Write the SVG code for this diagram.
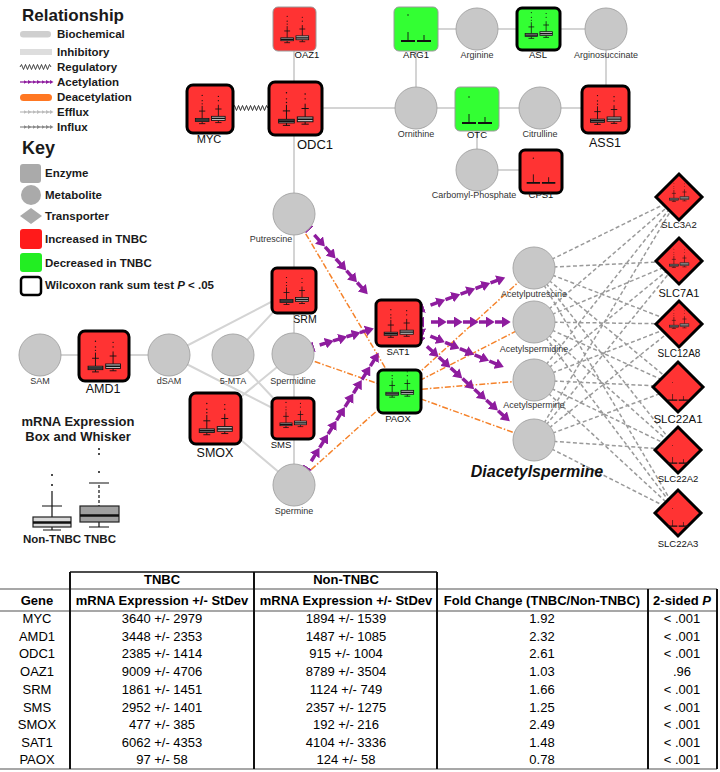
<svg xmlns="http://www.w3.org/2000/svg" xmlns:xlink="http://www.w3.org/1999/xlink" width="720" height="772" viewBox="0 0 720 772">
<style>
text{font-family:"Liberation Sans",Arial,sans-serif}
.up{fill:#FF3333}
.dn{fill:#33FF33}
.sig{stroke:#000;stroke-width:3}
.ns{stroke:#9a9a9a;stroke-width:1}
.met{fill:#C8C8C8;stroke:#A8A8A8;stroke-width:1}
.ml{font-size:9px;fill:#333;text-anchor:middle}
.gl{fill:#111;text-anchor:middle}
.bio{stroke:#D4D4D4;stroke-width:2;fill:none}
.dea{stroke:#F5822A;stroke-width:1.5;stroke-dasharray:6 2 1.5 2;fill:none}
.tr{stroke:#9A9A9A;stroke-width:1.5;stroke-dasharray:4 2.5;fill:none}
.ac{stroke:#8E1C9E;stroke-width:3.5;fill:none;marker-start:url(#ahr);marker-mid:url(#ah);marker-end:url(#ah)}
.lg{font-size:11.5px;font-weight:bold;fill:#1a1a1a}
.th{font-size:13px;font-weight:bold;fill:#000;text-anchor:middle}
.td{font-size:13px;fill:#000;text-anchor:middle}
.vl{stroke:#111;stroke-width:2}
.hl{stroke:#8a8a8a;stroke-width:1.5}
</style>
<defs>
<marker id="ah" markerUnits="userSpaceOnUse" markerWidth="11" markerHeight="11" refX="1" refY="5" orient="auto" viewBox="0 0 10 10"><path d="M0,0 L8,5 L0,10 z" fill="#8E1C9E"/></marker>
<marker id="ahr" markerUnits="userSpaceOnUse" markerWidth="11" markerHeight="11" refX="1" refY="5" orient="auto-start-reverse" viewBox="0 0 10 10"><path d="M0,0 L8,5 L0,10 z" fill="#8E1C9E"/></marker>
<marker id="sp" markerUnits="userSpaceOnUse" markerWidth="5" markerHeight="5" refX="1" refY="2" orient="auto" viewBox="0 0 5 4"><path d="M0,0 L3.5,2 L0,4 z" fill="#8E1C9E"/></marker>
<marker id="sg1" markerUnits="userSpaceOnUse" markerWidth="5" markerHeight="5" refX="1" refY="2" orient="auto" viewBox="0 0 5 4"><path d="M0,0 L3.5,2 L0,4 z" fill="#BBBBBB"/></marker>
<marker id="sg2" markerUnits="userSpaceOnUse" markerWidth="5" markerHeight="5" refX="1" refY="2" orient="auto" viewBox="0 0 5 4"><path d="M0,0 L3.5,2 L0,4 z" fill="#888888"/></marker>
<symbol id="bp" viewBox="0 0 44 44">
<g stroke="#111" stroke-width="0.8" fill="none">
<path d="M14.5 19V31 M11.5 24h6 M11.5 36h6 M14.5 34v2 M30 18V29 M27 22h6 M27 35h6 M30 33v2"/>
</g>
<g fill="#111"><circle cx="14.5" cy="9" r="0.6"/><circle cx="14.5" cy="14" r="0.6"/><circle cx="14.5" cy="17" r="0.6"/><circle cx="30" cy="10" r="0.6"/><circle cx="30" cy="14" r="0.6"/></g>
<rect x="8" y="31" width="13" height="3" fill="#aaa" stroke="#111" stroke-width="0.8"/>
<rect x="23.5" y="29" width="13" height="4" fill="#bbb" stroke="#111" stroke-width="0.8"/>
<path d="M8 32.5h13 M23.5 31h13" stroke="#111" stroke-width="1.3"/>
</symbol>
<symbol id="bf" viewBox="0 0 44 44">
<circle cx="14" cy="8" r="0.7" fill="#111"/>
<path d="M14 25V34 M30 28V34" stroke="#111" stroke-width="0.9"/>
<path d="M7 34h14 M23 34h14" stroke="#111" stroke-width="1.8"/>
</symbol>
</defs>
<rect width="720" height="772" fill="#fff"/>

<!-- Legend -->
<g id="legend">
<text x="22" y="21" font-size="17" font-weight="bold" fill="#1a1a1a">Relationship</text>
<rect x="20" y="31" width="31" height="6.5" rx="3.2" fill="#CFCFCF"/>
<text class="lg" x="57" y="38">Biochemical</text>
<rect x="20" y="49" width="32" height="6" fill="#DDDDDD"/>
<text class="lg" x="57" y="56">Inhibitory</text>
<path d="M20 67 l1.5 -2.5 l2 5 l2 -5 l2 5 l2 -5 l2 5 l2 -5 l2 5 l2 -5 l2 5 l2 -5 l2 5 l2 -5 l2 5 l2 -5 l1.5 2.5" stroke="#333" stroke-width="0.9" fill="none"/>
<text class="lg" x="57" y="71">Regulatory</text>
<path d="M20 82 h4.5 h4.5 h4.5 h4.5 h4.5 h4.5 h4" stroke="#8E1C9E" stroke-width="1.3" fill="none" marker-mid="url(#sp)" marker-end="url(#sp)"/>
<text class="lg" x="57" y="86">Acetylation</text>
<rect x="20" y="94" width="32" height="7" rx="3.5" fill="#FF7722"/>
<text class="lg" x="57" y="101">Deacetylation</text>
<path d="M20 112 h4.5 h4.5 h4.5 h4.5 h4.5 h4.5 h4" stroke="#BBBBBB" stroke-width="1.2" fill="none" marker-mid="url(#sg1)" marker-end="url(#sg1)"/>
<text class="lg" x="57" y="116">Efflux</text>
<path d="M20 127 h4.5 h4.5 h4.5 h4.5 h4.5 h4.5 h4" stroke="#888888" stroke-width="1.2" fill="none" marker-mid="url(#sg2)" marker-end="url(#sg2)"/>
<text class="lg" x="57" y="131">Influx</text>
<text x="22" y="154" font-size="18" font-weight="bold" fill="#1a1a1a">Key</text>
<rect x="20" y="164" width="21" height="19" rx="3" fill="#AAAAAA"/>
<text class="lg" x="45" y="177">Enzyme</text>
<circle cx="31" cy="195" r="10" fill="#AAAAAA"/>
<text class="lg" x="45" y="199">Metabolite</text>
<polygon points="20,216 31,208 42,216 31,224" fill="#AAAAAA"/>
<text class="lg" x="45" y="220">Transporter</text>
<rect x="20" y="229" width="22" height="20" rx="3" fill="#FF1A1A"/>
<text class="lg" x="45" y="243">Increased in TNBC</text>
<rect x="20" y="253" width="22" height="19" rx="3" fill="#22EE22"/>
<text class="lg" x="45" y="267">Decreased in TNBC</text>
<rect x="21" y="277" width="20" height="18" rx="3" fill="#fff" stroke="#000" stroke-width="2.5"/>
<text class="lg" x="45" y="289">Wilcoxon rank sum test <tspan font-style="italic">P</tspan> &lt; .05</text>
</g>

<!-- Box and whisker legend -->
<g id="bw-legend">
<text x="78" y="426" font-size="13" font-weight="bold" fill="#1a1a1a" text-anchor="middle">mRNA Expression</text>
<text x="78" y="441" font-size="13" font-weight="bold" fill="#1a1a1a" text-anchor="middle">Box and Whisker</text>
<g fill="#111"><circle cx="99" cy="449" r="1"/><circle cx="99" cy="454" r="1"/><circle cx="99" cy="472" r="1"/><circle cx="52" cy="475" r="1"/><circle cx="52" cy="485" r="1"/></g>
<path d="M52 491V517 M42 506h20 M52 527v3 M43 530h18" stroke="#111" stroke-width="1.2" fill="none"/>
<rect x="33" y="517" width="38" height="10" fill="#D8D8D8" stroke="#222" stroke-width="1.2"/>
<path d="M33 522.5h38" stroke="#111" stroke-width="2.5"/>
<path d="M99 485V506" stroke="#111" stroke-width="1.2" stroke-dasharray="3 2"/>
<path d="M89 483h20 M99 522v5 M89 527h20" stroke="#111" stroke-width="1.2" fill="none"/>
<rect x="80" y="506" width="39" height="16" fill="#A0A0A0" stroke="#222" stroke-width="1.2"/>
<path d="M80 515.5h39" stroke="#111" stroke-width="2.5"/>
<text x="52" y="543" font-size="11.5" font-weight="bold" fill="#1a1a1a" text-anchor="middle">Non-TNBC</text>
<text x="100" y="543" font-size="11.5" font-weight="bold" fill="#1a1a1a" text-anchor="middle">TNBC</text>
</g>

<!-- Connectors -->
<g id="edges">
<path class="bio" d="M294 51V464 M322 108H581 M416 29V108 M438 29H585 M606 29V108 M477 108V170 M477 170H540 M40 355H169 M169 355L294 290 M169 355L292 418 M233 355L294 290 M233 355L292 418 M215 418L293 354 M215 418L294 485"/>
<path d="M233 108 l1.5 -2.5 l2 5 l2 -5 l2 5 l2 -5 l2 5 l2 -5 l2 5 l2 -5 l2 5 l2 -5 l2 5 l2 -5 l2 5 l2 -5 l2 5 l2 -5 l1.5 2.5" stroke="#333" stroke-width="1" fill="none"/>
<path class="tr" d="M534 268L679 197 M534 268L679 261 M534 268L679 324 M534 268L678 387 M534 268L678 450 M534 268L678 513 M534 322L679 197 M534 322L679 261 M534 322L679 324 M534 322L678 387 M534 322L678 450 M534 322L678 513 M534 380L679 197 M534 380L679 261 M534 380L679 324 M534 380L678 387 M534 380L678 450 M534 380L678 513 M534 440L679 197 M534 440L679 261 M534 440L679 324 M534 440L678 387 M534 440L678 450 M534 440L678 513"/>
<path class="dea" d="M294 214L399 391 M293 354L399 391 M294 485L399 391 M399 391L534 268 M399 391L534 322 M399 391L534 380 M399 391L534 440"/>
<path class="ac" stroke-dasharray="8 8" stroke-dashoffset="8" d="M309 229 l10.71 11.89 l10.71 11.89 l10.71 11.89 l10.71 11.89 l10.71 11.89"/>
<path class="ac" stroke-dasharray="7 7" stroke-dashoffset="7" d="M313 347 l13.38 -4.09 l13.38 -4.09 l13.38 -4.09 l13.38 -4.09"/>
<path class="ac" stroke-dasharray="8 8" stroke-dashoffset="8" d="M307 468 l8.45 -13.59 l8.45 -13.59 l8.45 -13.59 l8.45 -13.59 l8.45 -13.59 l8.45 -13.59 l8.45 -13.59 l8.45 -13.59"/>
<path class="ac" stroke-dasharray="8 8" stroke-dashoffset="8" d="M423 308 l15 -5.57 l15 -5.57 l15 -5.57 l15 -5.57 l15 -5.57"/>
<path class="ac" stroke-dasharray="8 8" stroke-dashoffset="8" d="M423 322 l16 0 l16 0 l16 0 l16 0 l16 0"/>
<path class="ac" stroke-dasharray="8 8" stroke-dashoffset="8" d="M423 333 l14.74 6.22 l14.74 6.22 l14.74 6.22 l14.74 6.22 l14.74 6.22"/>
<path class="ac" stroke-dasharray="8 8" stroke-dashoffset="8" d="M421 341 l11.87 10.74 l11.87 10.74 l11.87 10.74 l11.87 10.74 l11.87 10.74 l11.87 10.74 l11.87 10.74"/>
</g>

<!-- Enzymes -->
<g id="OAZ1"><rect class="up ns" x="273" y="7" width="43" height="44" rx="5"/><use href="#bp" x="273" y="7" width="43" height="44"/><text class="gl" x="307" y="58" font-size="9.5">OAZ1</text></g>
<g id="ARG1"><rect class="dn ns" x="394" y="7" width="44" height="44" rx="5"/><use href="#bf" x="394" y="7" width="44" height="44"/><text class="gl" x="416" y="58" font-size="9.5">ARG1</text></g>
<g id="ASL"><rect class="dn sig" x="517" y="8" width="43" height="42" rx="5"/><use href="#bp" x="517" y="4" width="43" height="42"/><text class="gl" x="538" y="58" font-size="9.5">ASL</text></g>
<g id="MYC"><rect class="up sig" x="187" y="85" width="46" height="48" rx="6"/><use href="#bp" x="187" y="85" width="46" height="48"/><text class="gl" x="209" y="143" font-size="11">MYC</text></g>
<g id="ODC1"><rect class="up sig" x="269" y="82" width="53" height="53" rx="6"/><use href="#bp" x="269" y="82" width="53" height="53"/><text class="gl" x="315" y="149" font-size="13">ODC1</text></g>
<g id="OTC"><rect class="dn ns" x="455" y="87" width="44" height="44" rx="5"/><use href="#bf" x="455" y="89" width="44" height="44"/><text class="gl" x="477" y="138" font-size="9.5">OTC</text></g>
<g id="ASS1"><rect class="up sig" x="582" y="86" width="47" height="47" rx="6"/><use href="#bp" x="582" y="86" width="47" height="47"/><text class="gl" x="605" y="147" font-size="12.5">ASS1</text></g>
<g id="CPS1"><rect class="up sig" x="520" y="150" width="42" height="43" rx="5"/><use href="#bf" x="520" y="150" width="42" height="43"/><text class="gl" x="541" y="198" font-size="9.5">CPS1</text></g>
<g id="SRM"><rect class="up sig" x="272" y="268" width="44" height="45" rx="5"/><use href="#bp" x="272" y="268" width="44" height="45"/><text class="gl" x="305" y="323" font-size="10.5">SRM</text></g>
<g id="AMD1"><rect class="up sig" x="79" y="331" width="50" height="50" rx="6"/><use href="#bp" x="79" y="331" width="50" height="50"/><text class="gl" x="103" y="393" font-size="12.5">AMD1</text></g>
<g id="SAT1"><rect class="up sig" x="376" y="300" width="45" height="46" rx="5"/><use href="#bp" x="376" y="300" width="45" height="46"/><text class="gl" x="398" y="355" font-size="9.5">SAT1</text></g>
<g id="PAOX"><rect class="dn sig" x="378" y="370" width="43" height="43" rx="5"/><use href="#bp" x="378" y="362" width="43" height="43"/><text class="gl" x="398" y="422" font-size="9.5">PAOX</text></g>
<g id="SMS"><rect class="up sig" x="272" y="398" width="42" height="41" rx="5"/><use href="#bp" x="272" y="394" width="42" height="41"/><text class="gl" x="281" y="448" font-size="9.5">SMS</text></g>
<g id="SMOX"><rect class="up sig" x="190" y="393" width="51" height="51" rx="6"/><use href="#bp" x="190" y="393" width="51" height="51"/><text class="gl" x="215" y="457" font-size="12.5">SMOX</text></g>

<!-- Metabolites -->
<g id="Arginine"><circle class="met" cx="477" cy="29" r="21"/><text class="ml" x="477" y="58">Arginine</text></g>
<g id="Arginosuccinate"><circle class="met" cx="606" cy="29" r="21"/><text class="ml" x="606" y="58">Arginosuccinate</text></g>
<g id="Ornithine"><circle class="met" cx="416" cy="108" r="21"/><text class="ml" x="416" y="137">Ornithine</text></g>
<g id="Citrulline"><circle class="met" cx="540" cy="108" r="21"/><text class="ml" x="540" y="137">Citrulline</text></g>
<g id="Carbomyl-Phosphate"><circle class="met" cx="477" cy="170" r="21"/><text class="ml" x="474" y="198" font-size="8.8">Carbomyl-Phosphate</text></g>
<g id="Putrescine"><circle class="met" cx="294" cy="214" r="21"/><text class="ml" x="271" y="242">Putrescine</text></g>
<g id="SAM"><circle class="met" cx="40" cy="355" r="21"/><text class="ml" x="40" y="384">SAM</text></g>
<g id="dSAM"><circle class="met" cx="169" cy="355" r="21"/><text class="ml" x="169" y="384">dSAM</text></g>
<g id="MTA"><circle class="met" cx="233" cy="355" r="21"/><text class="ml" x="233" y="384">5-MTA</text></g>
<g id="Spermidine"><circle class="met" cx="293" cy="354" r="21"/><text class="ml" x="293" y="384">Spermidine</text></g>
<g id="Spermine"><circle class="met" cx="294" cy="485" r="21"/><text class="ml" x="294" y="514">Spermine</text></g>
<g id="Acetylputrescine"><circle class="met" cx="534" cy="268" r="21"/><text class="ml" x="534" y="297">Acetylputrescine</text></g>
<g id="Acetylspermidine"><circle class="met" cx="534" cy="322" r="21"/><text class="ml" x="534" y="352">Acetylspermidine</text></g>
<g id="Acetylspermine"><circle class="met" cx="534" cy="380" r="21"/><text class="ml" x="534" y="408">Acetylspermine</text></g>
<g id="Diacetylspermine"><circle class="met" cx="534" cy="440" r="21"/><text x="537" y="477" font-size="16" font-weight="bold" font-style="italic" fill="#111" text-anchor="middle">Diacetylspermine</text></g>

<!-- Transporters -->
<g id="SLC3A2"><polygon class="up sig" points="656,197 679,174 702,197 679,220"/><use href="#bp" x="664" y="177" width="30" height="30"/><text class="gl" x="679" y="228" font-size="9.5">SLC3A2</text></g>
<g id="SLC7A1"><polygon class="up sig" points="656,261 679,238 702,261 679,284"/><use href="#bp" x="664" y="243" width="30" height="30"/><text class="gl" x="679" y="297" font-size="11">SLC7A1</text></g>
<g id="SLC12A8"><polygon class="up sig" points="656,324 679,301 702,324 679,347"/><use href="#bp" x="664" y="304" width="30" height="30"/><text class="gl" x="679" y="357" font-size="10">SLC12A8</text></g>
<g id="SLC22A1"><polygon class="up sig" points="653,387 678,362 703,387 678,412"/><use href="#bf" x="663" y="377" width="30" height="30"/><text class="gl" x="678" y="423" font-size="11.5">SLC22A1</text></g>
<g id="SLC22A2"><polygon class="up sig" points="655,450 678,427 701,450 678,473"/><use href="#bf" x="663" y="440" width="30" height="30"/><text class="gl" x="678" y="482" font-size="9.5">SLC22A2</text></g>
<g id="SLC22A3"><polygon class="up sig" points="655,513 678,490 701,513 678,536"/><use href="#bf" x="663" y="503" width="30" height="30"/><text class="gl" x="678" y="547" font-size="9.5">SLC22A3</text></g>

<!-- Table -->
<g id="table">
<path class="hl" d="M0 589H717 M0 611H717 M0 769H717"/>
<path d="M70 572H437" stroke="#111" stroke-width="1.5"/>
<path class="vl" d="M70 572V769 M254 572V769 M437 572V769 M648 589V769 M717 589V769"/>
<text class="th" x="162" y="584">TNBC</text>
<text class="th" x="346" y="584">Non-TNBC</text>
<text class="th" x="37" y="605">Gene</text>
<text class="th" x="162" y="605">mRNA Expression +/- StDev</text>
<text class="th" x="346" y="605">mRNA Expression +/- StDev</text>
<text class="th" x="542" y="605">Fold Change (TNBC/Non-TNBC)</text>
<text class="th" x="682" y="605">2-sided <tspan font-style="italic">P</tspan></text>
<g class="td">
<text class="td" x="37" y="623">MYC</text><text class="td" x="162" y="623">3640 +/- 2979</text><text class="td" x="346" y="623">1894 +/- 1539</text><text class="td" x="542" y="623">1.92</text><text class="td" x="682" y="623">&lt; .001</text>
<text class="td" x="37" y="641">AMD1</text><text class="td" x="162" y="641">3448 +/- 2353</text><text class="td" x="346" y="641">1487 +/- 1085</text><text class="td" x="542" y="641">2.32</text><text class="td" x="682" y="641">&lt; .001</text>
<text class="td" x="37" y="658">ODC1</text><text class="td" x="162" y="658">2385 +/- 1414</text><text class="td" x="346" y="658">915 +/- 1004</text><text class="td" x="542" y="658">2.61</text><text class="td" x="682" y="658">&lt; .001</text>
<text class="td" x="37" y="676">OAZ1</text><text class="td" x="162" y="676">9009 +/- 4706</text><text class="td" x="346" y="676">8789 +/- 3504</text><text class="td" x="542" y="676">1.03</text><text class="td" x="682" y="676">.96</text>
<text class="td" x="37" y="694">SRM</text><text class="td" x="162" y="694">1861 +/- 1451</text><text class="td" x="346" y="694">1124 +/- 749</text><text class="td" x="542" y="694">1.66</text><text class="td" x="682" y="694">&lt; .001</text>
<text class="td" x="37" y="712">SMS</text><text class="td" x="162" y="712">2952 +/- 1401</text><text class="td" x="346" y="712">2357 +/- 1275</text><text class="td" x="542" y="712">1.25</text><text class="td" x="682" y="712">&lt; .001</text>
<text class="td" x="37" y="729">SMOX</text><text class="td" x="162" y="729">477 +/- 385</text><text class="td" x="346" y="729">192 +/- 216</text><text class="td" x="542" y="729">2.49</text><text class="td" x="682" y="729">&lt; .001</text>
<text class="td" x="37" y="747">SAT1</text><text class="td" x="162" y="747">6062 +/- 4353</text><text class="td" x="346" y="747">4104 +/- 3336</text><text class="td" x="542" y="747">1.48</text><text class="td" x="682" y="747">&lt; .001</text>
<text class="td" x="37" y="764">PAOX</text><text class="td" x="162" y="764">97 +/- 58</text><text class="td" x="346" y="764">124 +/- 58</text><text class="td" x="542" y="764">0.78</text><text class="td" x="682" y="764">&lt; .001</text>
</g>
</g>
</svg>
